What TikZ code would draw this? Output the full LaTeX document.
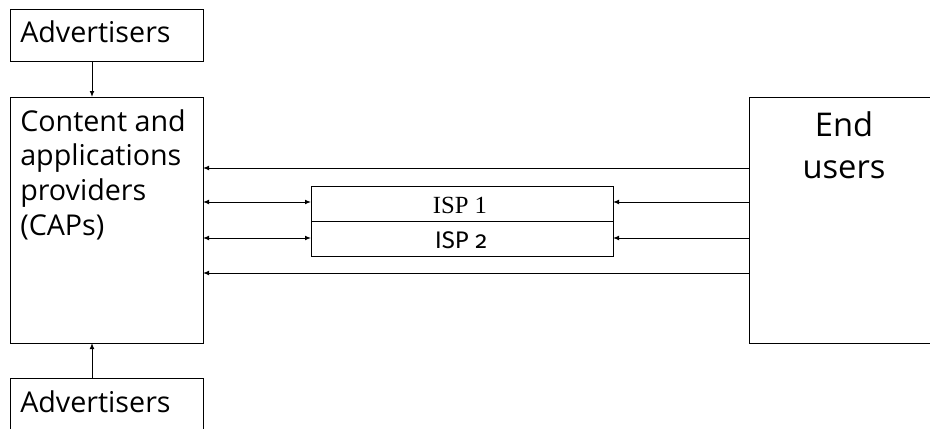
\documentclass[tikz,border=0pt]{standalone}
\usepackage{fontspec}
\setmainfont{Liberation Serif}
\newfontfamily\labelsans{Open Sans}
\newfontfamily\ispsans[Numbers=OldStyle]{Fira Sans}
\usetikzlibrary{arrows.meta,positioning}
\tikzset{
  box/.style={draw, line width=0.75pt, rectangle, inner sep=0pt, outer sep=0pt},
  lbl/.style={font=\labelsans\fontsize{21.5}{26}\selectfont, inner sep=0pt, align=left},
  biglbl/.style={font=\labelsans\fontsize{24.5}{31.5}\selectfont, inner sep=0pt, align=center},
  isplbl/.style={font=\fontsize{18.5}{20}\selectfont, inner sep=0pt},
  isplbltwo/.style={font=\ispsans\fontsize{18}{20}\selectfont, inner sep=0pt},
  arr/.style={line width=0.75pt, -{Latex[length=4.5pt,width=3.6pt]}},
  darr/.style={line width=0.75pt, {Latex[length=4.5pt,width=3.6pt]}-{Latex[length=4.5pt,width=3.6pt]}}
}
\begin{document}
\begin{tikzpicture}[x=0.75pt,y=-0.75pt]
\useasboundingbox (0,0) rectangle (930,428);
\clip (0,0) rectangle (930,428);
% boxes
\node[box, minimum width=193*0.75pt, minimum height=52*0.75pt, anchor=north west] (adv1) at (10,10) {};
\node[box, minimum width=193*0.75pt, minimum height=246*0.75pt, anchor=north west] (caps) at (10,97) {};
\node[box, minimum width=193*0.75pt, minimum height=80*0.75pt, anchor=north west] (adv2) at (10,378) {};
\node[box, minimum width=190*0.75pt, minimum height=246*0.75pt, anchor=north west] (eu) at (749,97) {};
\node[box, minimum width=302*0.75pt, minimum height=35*0.75pt, anchor=north west] (isp1) at (311,186) {};
\node[box, minimum width=302*0.75pt, minimum height=35*0.75pt, anchor=north west] (isp2) at (311,221) {};
% texts
\node[lbl, anchor=base west] (t1) at (20,43) {Advertisers};
\node[lbl, anchor=base west] (t2) at (20,235) {Content and\\applications\\providers\\(CAPs)};
\node[lbl, anchor=base west] (t3) at (20,412) {Advertisers};
\node[biglbl, anchor=base] (t4) at (844,178) {End\\users};
\node[isplbl, anchor=base] (t5) at (460,213) {ISP 1};
\node[isplbltwo, anchor=base] (t6) at (461,248) {ISP 2};
% connectors
\draw[arr] (adv1.south -| 92,0) -- (caps.north -| 92,0);
\draw[arr] (adv2.north -| 92,0) -- (caps.south -| 92,0);
\draw[arr] (eu.west |- 0,168) -- (caps.east |- 0,168);
\draw[arr] (eu.west |- 0,273) -- (caps.east |- 0,273);
\draw[darr] (caps.east |- 0,202) -- (isp1.west |- 0,202);
\draw[darr] (caps.east |- 0,238) -- (isp2.west |- 0,238);
\draw[arr] (eu.west |- 0,202) -- (isp1.east |- 0,202);
\draw[arr] (eu.west |- 0,238) -- (isp2.east |- 0,238);
\end{tikzpicture}
\end{document}
